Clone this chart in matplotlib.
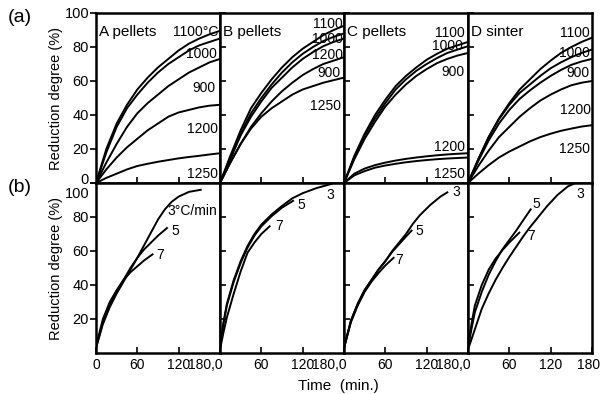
import matplotlib.pyplot as plt
from matplotlib.transforms import ScaledTranslation

plt.rcParams['font.family'] = ['Liberation Sans', 'DejaVu Sans']

# (a) reduction degree vs time at different temperatures
t_a = [0, 15, 30, 45, 60, 75, 90, 105, 120, 135, 150, 165, 180]

a_A = {
    '1100': [0, 20, 35, 46, 55, 62, 68, 73, 78, 82, 85, 87.5, 89.5],
    '1000': [0, 18, 33, 44, 52, 59, 65, 70, 74, 78, 81, 83, 85],
    '900':  [0, 12, 23, 33, 41, 47, 52, 57, 61, 65, 68, 71, 73],
    '1200': [0, 8, 15, 21, 26, 31, 35, 39, 41.5, 43, 44.5, 45.5, 46],
    '1250': [0, 3, 5.5, 8, 10, 11.3, 12.5, 13.5, 14.5, 15.3, 16, 16.8, 17.5],
}
a_B = {
    '1100': [0, 16, 31, 44, 53, 61, 68, 74, 79, 83, 87, 90, 92.5],
    '1000': [0, 15, 29, 41, 50, 58, 65, 71, 76, 80, 83.5, 86, 88],
    '1200': [0, 14, 28, 39, 48, 56, 62, 68, 73, 77, 80.5, 83, 85],
    '900':  [0, 12, 23, 33, 41, 48, 54, 59, 63.5, 67, 70, 72, 74],
    '1250': [0, 12, 23, 32, 39, 44, 48, 52, 55, 57, 59, 60.5, 62],
}
a_C = {
    '1100': [0, 16, 29, 40, 49, 57, 63, 68, 72.5, 76, 79, 81, 83],
    '1000': [0, 15, 28, 38, 47, 55, 61, 66, 70, 73.5, 76.5, 78.5, 80.5],
    '900':  [0, 14, 26, 36, 45, 52, 58, 63, 67, 70.5, 73, 75, 76.5],
    '1200': [0, 5.5, 8.5, 10.5, 12, 13.2, 14.2, 15, 15.7, 16.3, 16.8, 17.2, 17.5],
    '1250': [0, 4.5, 7, 9, 10.3, 11.3, 12.2, 12.9, 13.5, 14, 14.4, 14.7, 15],
}
a_D = {
    '1100': [0, 14, 27, 38, 47, 55, 61, 67, 72, 76.5, 80, 83, 85.5],
    '1000': [0, 14, 27, 37.5, 46, 53, 58, 63, 67.5, 71, 74, 76.5, 78.5],
    '900':  [0, 13, 25, 35, 43, 49.5, 54.5, 59, 63, 66.5, 69.5, 71.5, 73],
    '1200': [0, 10, 19, 27, 33, 39, 44, 48.5, 52, 55, 57.5, 59, 60],
    '1250': [0, 5.5, 10.5, 15, 18.5, 21.5, 24.5, 27, 29, 30.7, 32, 33.2, 34],
}
top_data = [a_A, a_B, a_C, a_D]
top_titles = ['A pellets', 'B pellets', 'C pellets', 'D sinter']

# label text and position per panel
top_labels = [
    {'1100': ('1100°C', 177, 89), '1000': ('1000', 176, 76), '900': ('900', 173, 56),
     '1200': ('1200', 177, 32), '1250': ('1250', 177, 5)},
    {'1100': ('1100', 178, 93.5), '1000': ('1000', 178, 84.5), '1200': ('1200', 178, 75.5),
     '900': ('900', 175, 64.5), '1250': ('1250', 175, 45)},
    {'1100': ('1100', 175, 88), '1000': ('1000', 173, 80.5), '900': ('900', 175, 65.5),
     '1200': ('1200', 175, 21), '1250': ('1250', 175, 5.5)},
    {'1100': ('1100', 177, 88), '1000': ('1000', 177, 76.5), '900': ('900', 177, 64.5),
     '1200': ('1200', 178, 43), '1250': ('1250', 177, 20)},
]

# (b) reduction degree vs time at different heating rates
b_A = {
    '3': ([0, 10, 20, 30, 40, 50, 60, 70, 80, 90, 100, 110, 120, 135, 152],
          [3, 17, 27, 35, 42, 49, 56, 63.5, 71, 78.5, 84.5, 89, 92, 94.8, 96]),
    '5': ([0, 10, 20, 30, 40, 50, 60, 70, 80, 90, 103],
          [3, 18, 28, 36, 43, 50, 56, 61, 65, 69, 73.5]),
    '7': ([0, 10, 20, 30, 40, 50, 60, 70, 82],
          [4, 20, 30, 37, 43, 47.5, 51, 54.5, 58]),
}
b_B = {
    '3': ([0, 5, 10, 20, 30, 40, 50, 60, 75, 90, 105, 120, 140, 162],
          [3, 18, 29, 43, 54, 63, 70, 75.5, 81.5, 86.5, 91, 94, 97, 99.5]),
    '5': ([0, 5, 10, 20, 30, 40, 50, 60, 75, 90, 106],
          [3, 17, 28, 42, 53, 62, 69, 74.5, 80.5, 85.5, 89.5]),
    '7': ([0, 5, 10, 20, 30, 40, 50, 60, 72],
          [2, 12, 21, 35, 48, 59, 65, 70, 74.5]),
}
b_C = {
    '3': ([0, 10, 20, 30, 40, 50, 60, 70, 80, 90, 100, 110, 125, 140, 150],
          [3, 19, 29, 37, 43, 49, 54, 60, 65, 70, 76, 81, 87, 92, 94.5]),
    '5': ([0, 10, 20, 30, 40, 50, 60, 70, 80, 90, 98],
          [3, 19, 29, 37, 43, 49, 54, 59.5, 64, 68.5, 72]),
    '7': ([0, 10, 20, 30, 40, 50, 60, 72],
          [3, 18, 28, 36, 42, 47, 51.5, 56]),
}
b_D = {
    '3': ([0, 10, 20, 30, 40, 50, 60, 70, 80, 90, 100, 115, 130, 145, 156],
          [2, 14, 26, 35, 43, 50, 56.5, 62.5, 68.5, 74, 79, 86.5, 93, 98, 100]),
    '5': ([0, 5, 10, 20, 30, 40, 50, 60, 70, 80, 91],
          [3, 14, 24, 36, 46, 54, 61, 66.5, 72, 78, 84.5]),
    '7': ([0, 5, 10, 20, 30, 40, 50, 60, 74.5],
          [3, 17, 28, 40, 49, 55.5, 60.5, 65, 70.8]),
}
bottom_data = [b_A, b_B, b_C, b_D]
bottom_labels = [
    {'3': ('3°C/min', 104, 83.5), '5': ('5', 109, 71.5), '7': ('7', 87, 57.5)},
    {'3': ('3', 154, 93), '5': ('5', 113, 87), '7': ('7', 80, 74.5)},
    {'3': ('3', 157, 95), '5': ('5', 103.5, 71.5), '7': ('7', 74.5, 55)},
    {'3': ('3', 157, 93.5), '5': ('5', 94, 87.5), '7': ('7', 86.5, 69)},
]

fs = 10

fig = plt.figure(figsize=(6.02, 3.94), dpi=100)
axes = fig.subplots(2, 4, gridspec_kw=dict(left=96/602, right=592/602, top=1-13/394,
                                            bottom=1-353/394, wspace=0, hspace=0))

for i in range(4):
    ax = axes[0, i]
    for k, vals in top_data[i].items():
        ax.plot(t_a, vals, color='black', lw=1.4)
        txt, x, y = top_labels[i][k]
        ax.text(x, y, txt, ha='right', va='center', fontsize=fs)
    ax.text(5, 89, top_titles[i], ha='left', va='center', fontsize=11)

    ax2 = axes[1, i]
    for k, (tt, vv) in bottom_data[i].items():
        ax2.plot(tt, vv, color='black', lw=1.4)
        txt, x, y = bottom_labels[i][k]
        ax2.text(x, y, txt, ha='left', va='center', fontsize=fs)

for r in range(2):
    for i in range(4):
        ax = axes[r, i]
        ax.set_xlim(0, 180)
        ax.set_ylim(0, 100)
        for s in ax.spines.values():
            s.set_linewidth(1.8)
        ax.tick_params(axis='x', direction='in', length=4, width=1.2, labelsize=fs)
        ax.tick_params(axis='y', direction='out' if i == 0 else 'in', length=4, width=1.2,
                       labelsize=fs + 0.5, pad=1)
        ax.set_yticks([0, 20, 40, 60, 80, 100] if r == 0 else [20, 40, 60, 80, 100])
        if i > 0:
            ax.set_yticklabels([])
        if r == 0:
            ax.set_xticks([60, 120])
            ax.set_xticklabels([])
        else:
            ticks = [0, 60, 120] if i < 3 else [0, 60, 120, 180]
            names = ['0', '60', '120'] if i == 0 else ['180,0', '60', '120']
            if i == 3:
                names = names + ['180']
            ax.set_xticks(ticks)
            ax.set_xticklabels(names)
            if i > 0:
                lab = ax.get_xticklabels()[0]
                lab.set_ha('right')
                lab.set_transform(lab.get_transform() + ScaledTranslation(0.03, 0, fig.dpi_scale_trans))
            if i == 3:
                lab = ax.get_xticklabels()[-1]
                lab.set_transform(lab.get_transform() + ScaledTranslation(-0.03, 0, fig.dpi_scale_trans))
    axes[r, 0].set_ylabel('Reduction degree (%)', fontsize=10.5, labelpad=1)

# keep the shared corner labels apart
lab0 = axes[0, 0].get_yticklabels()[0]
lab0.set_transform(lab0.get_transform() + ScaledTranslation(0, 0.04, fig.dpi_scale_trans))
lab100 = axes[1, 0].get_yticklabels()[-1]
lab100.set_transform(lab100.get_transform() + ScaledTranslation(0, -0.09, fig.dpi_scale_trans))

fig.text(8/602, 1-18/394, '(a)', fontsize=14, va='center')
fig.text(8/602, 1-187/394, '(b)', fontsize=14, va='center')
fig.text(338/602, 1-386/394, 'Time  (min.)', fontsize=11, ha='center', va='center')

fig.savefig('out.png', dpi=100)
